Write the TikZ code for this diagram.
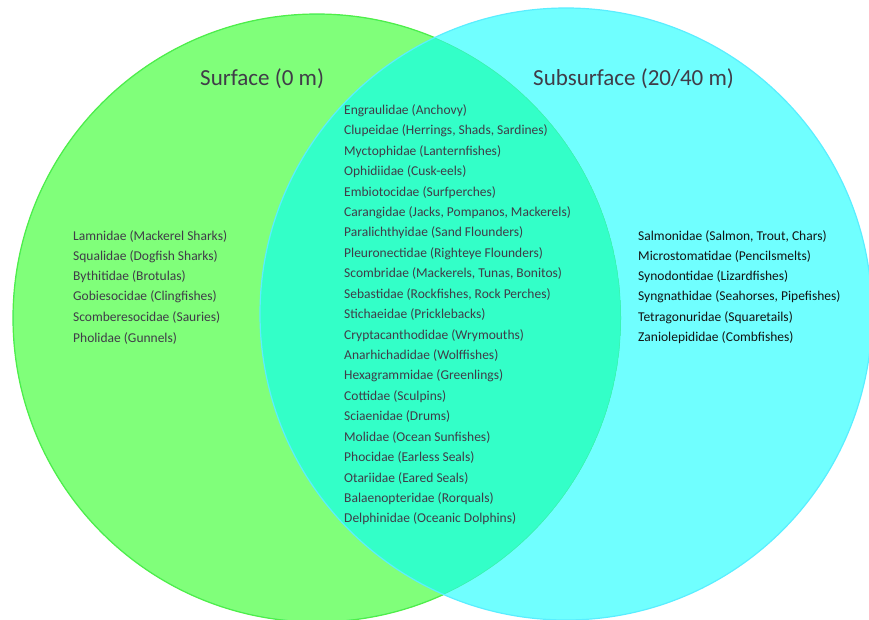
\documentclass[tikz,border=0pt]{standalone}
\usepackage{fontspec}
\setmainfont{Carlito}
\definecolor{gfill}{RGB}{128,255,122}
\definecolor{gline}{RGB}{80,238,70}
\definecolor{cfill}{RGB}{112,255,255}
\definecolor{cline}{RGB}{90,238,255}
\definecolor{ofill}{RGB}{51,255,200}
\definecolor{oline}{RGB}{60,240,170}
\definecolor{txtgrey}{RGB}{64,60,72}
\definecolor{txtdark}{RGB}{20,20,20}
\begin{document}
\begin{tikzpicture}[x=1pt,y=-1pt,
  title/.style={anchor=west,inner sep=0pt,font=\fontsize{23}{27}\selectfont,text=txtgrey},
  item/.style={anchor=west,inner sep=0pt,font=\fontsize{13.5}{16}\selectfont,text=txtgrey},
  ritem/.style={item,text=txtdark}]
\useasboundingbox (0,0) rectangle (869,619);
\fill[white] (0,0) rectangle (869,619);
\begin{scope}
\clip (0,0) rectangle (869,619);
% circles
\fill[gfill] (317,318) circle[radius=304];
\fill[cfill] (566,314) circle[radius=306];
\begin{scope}
\clip (317,318) circle[radius=304];
\fill[ofill] (566,314) circle[radius=306];
\draw[oline,line width=1pt] (317,318) circle[radius=304];
\end{scope}
\begin{scope}
\clip (0,0) rectangle (869,619);
\begin{scope}[even odd rule]
\clip (566,314) circle[radius=306] (-10,-10) rectangle (900,700);
\draw[gline,line width=1.2pt] (317,318) circle[radius=304];
\end{scope}
\end{scope}
\draw[cline,line width=1.2pt] (566,314) circle[radius=306];
\end{scope}
% titles
\node[title] (tl) at (200,79) {Surface (0 m)};
\node[title] (tr) at (533,79) {Subsurface (20/40 m)};
% left list
\foreach \t [count=\i from 0] in {Lamnidae (Mackerel Sharks),Squalidae (Dogfish Sharks),Bythitidae (Brotulas),Gobiesocidae (Clingfishes),Scomberesocidae (Sauries),Pholidae (Gunnels)}
  \node[item] (l\i) at (73,{236+20.4*\i}) {\t};
% middle list
\foreach \t [count=\i from 0] in {Engraulidae (Anchovy),{Clupeidae (Herrings, Shads, Sardines)},Myctophidae (Lanternfishes),Ophidiidae (Cusk-eels),Embiotocidae (Surfperches),{Carangidae (Jacks, Pompanos, Mackerels)},Paralichthyidae (Sand Flounders),Pleuronectidae (Righteye Flounders),{Scombridae (Mackerels, Tunas, Bonitos)},{Sebastidae (Rockfishes, Rock Perches)},Stichaeidae (Pricklebacks),Cryptacanthodidae (Wrymouths),Anarhichadidae (Wolffishes),Hexagrammidae (Greenlings),Cottidae (Sculpins),Sciaenidae (Drums),Molidae (Ocean Sunfishes),Phocidae (Earless Seals),Otariidae (Eared Seals),Balaenopteridae (Rorquals),Delphinidae (Oceanic Dolphins)}
  \node[item] (m\i) at (344,{110.5+20.43*\i}) {\t};
% right list
\foreach \t [count=\i from 0] in {{Salmonidae (Salmon, Trout, Chars)},Microstomatidae (Pencilsmelts),Synodontidae (Lizardfishes),{Syngnathidae (Seahorses, Pipefishes)},Tetragonuridae (Squaretails),Zaniolepididae (Combfishes)}
  \node[ritem] (r\i) at (638,{236+20.4*\i}) {\t};
\end{tikzpicture}
\end{document}
